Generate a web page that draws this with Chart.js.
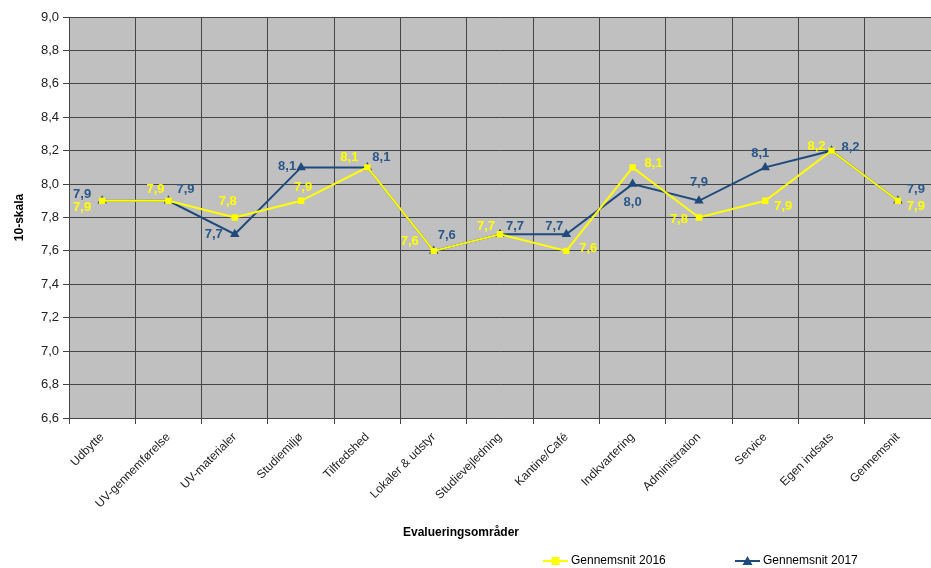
<!DOCTYPE html>
<html>
<head>
<meta charset="utf-8">
<script src="https://cdn.jsdelivr.net/npm/chart.js@4"></script>
<style>
  html, body { margin: 0; padding: 0; background: #fff; }
  #wrap { width: 931px; height: 568px; }
</style>
</head>
<body>
<div id="wrap"><canvas id="chart"></canvas></div>
<script>
const categories = [
  "Udbytte", "UV-gennemførelse", "UV-materialer", "Studiemiljø", "Tilfredshed",
  "Lokaler & udstyr", "Studievejledning", "Kantine/Café", "Indkvartering",
  "Administration", "Service", "Egen indsats", "Gennemsnit"
]
const values2016 = [7.9, 7.9, 7.8, 7.9, 8.1, 7.6, 7.7, 7.6, 8.1, 7.8, 7.9, 8.2, 7.9]
const values2017 = [7.9, 7.9, 7.7, 8.1, 8.1, 7.6, 7.7, 7.7, 8.0, 7.9, 8.1, 8.2, 7.9]
const seriesNames = ["Gennemsnit 2016", "Gennemsnit 2017"]
const yMin = 6.6
const yMax = 9.0
const yStep = 0.2

// where each data label sits relative to its point (px)
const labelOffsets2016 = [[-20, 7], [-13, -11], [-7, -16], [2, -13], [-18, -10], [-24, -9], [-14, -8],
  [22, -2], [21, -4], [-20, 2], [18, 6], [-15, -4], [18, 6]]
const labelOffsets2017 = [[-20, -6], [17, -11], [-21, 0], [-14, -1], [14, -10], [13, -15], [15, -8],
  [-12, -8], [0, 18], [0, -18], [-5, -14], [19, -3], [18, -11]]

const yellow = "#ffff00"
const blue = "#1f4a7c"
const fmt = (v) => v.toFixed(1).replace(".", ",")

const plotBg = {
  id: "plotBg",
  beforeDraw: (chart) => {
    const { ctx, chartArea: a } = chart
    ctx.save()
    ctx.fillStyle = "#c0c0c0"
    ctx.fillRect(a.left, a.top, a.right - a.left, a.bottom - a.top)
    ctx.restore()
  }
}

const extras = {
  id: "extras",
  afterDatasetsDraw: (chart) => {
    const ctx = chart.ctx
    ctx.save()
    ctx.font = "bold 13px 'Liberation Sans', Arial, sans-serif"
    ctx.textAlign = "center"
    ctx.textBaseline = "middle"
    const offs = [labelOffsets2016, labelOffsets2017]
    const cols = [yellow, "#2a5789"]
    ;[1, 0].forEach((d) => {
      const meta = chart.getDatasetMeta(d)
      meta.data.forEach((pt, i) => {
        ctx.fillStyle = cols[d]
        ctx.fillText(fmt(chart.data.datasets[d].data[i]), pt.x + offs[d][i][0], pt.y + offs[d][i][1])
      })
    })
    ctx.restore()
  },
  afterDraw: (chart) => {
    const ctx = chart.ctx
    ctx.save()
    ctx.fillStyle = "#000"
    ctx.font = "bold 12px 'Liberation Sans', Arial, sans-serif"
    ctx.textAlign = "center"
    ctx.textBaseline = "middle"
    ctx.fillText("Evalueringsområder", 461, 533)

    // legend
    ctx.font = "12px 'Liberation Sans', Arial, sans-serif"
    ctx.textAlign = "left"
    const items = [
      { x: 543, color: yellow, shape: "square", text: seriesNames[0] },
      { x: 735, color: blue, shape: "triangle", text: seriesNames[1] }
    ]
    const ly = 561
    items.forEach((it) => {
      ctx.strokeStyle = it.color
      ctx.lineWidth = 2
      ctx.beginPath()
      ctx.moveTo(it.x, ly)
      ctx.lineTo(it.x + 25, ly)
      ctx.stroke()
      ctx.fillStyle = it.color
      const cx = it.x + 12.5
      if (it.shape === "square") {
        ctx.fillRect(cx - 4, ly - 4, 8, 8)
      } else {
        ctx.beginPath()
        ctx.moveTo(cx, ly - 5)
        ctx.lineTo(cx + 5, ly + 4)
        ctx.lineTo(cx - 5, ly + 4)
        ctx.closePath()
        ctx.fill()
      }
      ctx.fillStyle = "#000"
      ctx.fillText(it.text, it.x + 28, ly)
    })
    ctx.restore()
  }
}

new Chart(document.getElementById("chart"), {
  type: "line",
  data: {
    labels: categories,
    datasets: [
      {
        label: seriesNames[0],
        data: values2016,
        borderColor: yellow,
        backgroundColor: yellow,
        borderWidth: 2,
        pointStyle: "rect",
        pointRadius: 4.5,
        pointBorderWidth: 0,
        tension: 0
      },
      {
        label: seriesNames[1],
        data: values2017,
        borderColor: blue,
        backgroundColor: blue,
        borderWidth: 2,
        pointStyle: "triangle",
        pointRadius: 5.5,
        pointBorderWidth: 0,
        tension: 0
      }
    ]
  },
  options: {
    responsive: true,
    maintainAspectRatio: false,
    animation: false,
    layout: { autoPadding: false, padding: { top: 17, right: 0, left: 8, bottom: 0 } },
    plugins: {
      legend: { display: false },
      tooltip: { enabled: false }
    },
    scales: {
      x: {
        offset: true,
        grid: { offset: true, color: "#454545", lineWidth: 1, tickLength: 6 },
        border: { color: "#454545" },
        ticks: {
          color: "#222",
          font: { size: 12, family: "'Liberation Sans', Arial, sans-serif" },
          minRotation: 45,
          maxRotation: 45,
          autoSkip: false,
          padding: 6
        },
        afterFit: (s) => {
          s.height = 150
          s.paddingLeft = 0
          s.paddingRight = 0
        }
      },
      y: {
        min: yMin,
        max: yMax,
        ticks: {
          stepSize: yStep,
          color: "#222",
          font: { size: 13, family: "'Liberation Sans', Arial, sans-serif" },
          callback: (v) => fmt(v),
          padding: 4
        },
        grid: { color: "#454545", lineWidth: 1, tickLength: 6 },
        border: { color: "#454545" },
        title: {
          display: true,
          text: "10-skala",
          color: "#000",
          font: { size: 12, weight: "bold", family: "'Liberation Sans', Arial, sans-serif" },
          padding: { top: 4, bottom: 8 }
        },
        afterFit: (s) => {
          s.width = 61
          s.paddingTop = 0
          s.paddingBottom = 0
        }
      }
    }
  },
  plugins: [plotBg, extras]
})
</script>
</body>
</html>
